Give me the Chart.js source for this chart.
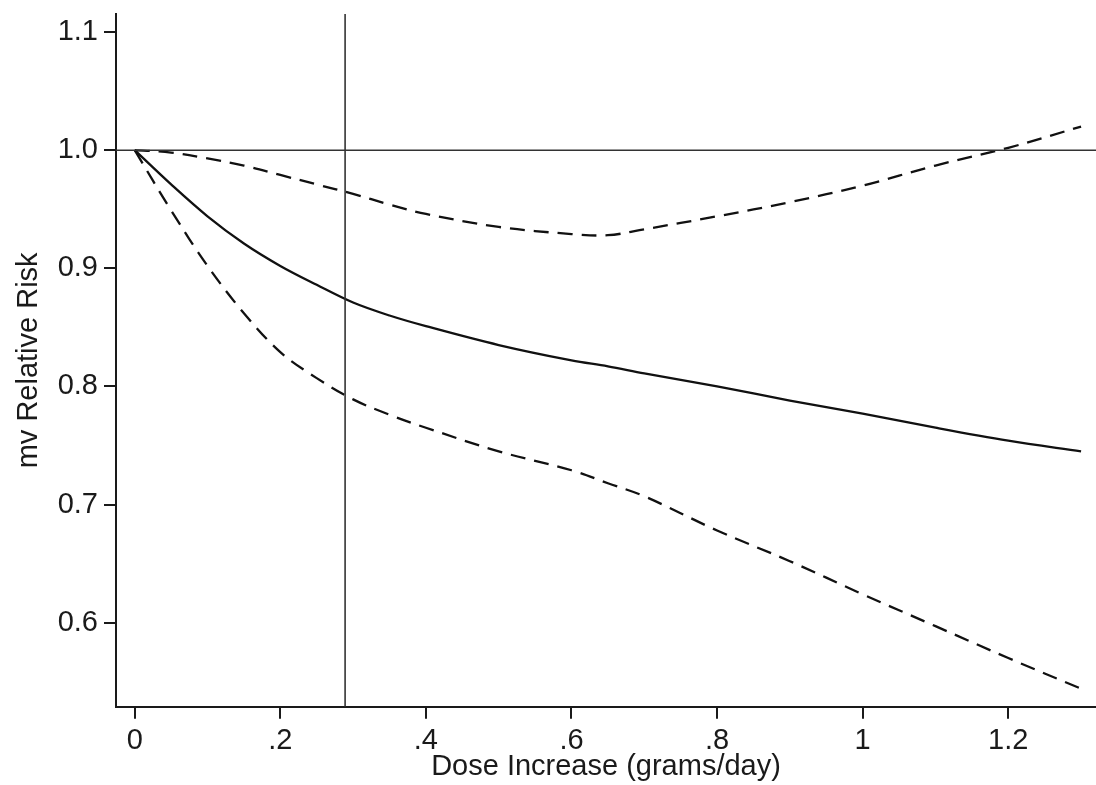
<!DOCTYPE html>
<html>
<head>
<meta charset="utf-8">
<script src="https://cdn.jsdelivr.net/npm/chart.js@4/dist/chart.umd.min.js"></script>
<style>
  html, body { margin: 0; padding: 0; background: #ffffff; overflow: hidden; }
  #wrap { position: relative; width: 1096px; height: 785px; }
</style>
</head>
<body>
<div id="wrap"><canvas id="c"></canvas></div>
<script>
// ---- Data ----
const doseX      = [0, 0.05, 0.1, 0.15, 0.2, 0.25, 0.3, 0.35, 0.4, 0.5, 0.6, 0.65, 0.7, 0.8, 0.9, 1.0, 1.1, 1.2, 1.3];
const rrEstimate = [1.000, 0.971, 0.944, 0.921, 0.902, 0.886, 0.871, 0.860, 0.851, 0.835, 0.822, 0.817, 0.811, 0.800, 0.788, 0.777, 0.765, 0.754, 0.745];
const rrUpper    = [1.000, 0.998, 0.993, 0.987, 0.979, 0.971, 0.963, 0.954, 0.946, 0.935, 0.929, 0.928, 0.933, 0.944, 0.956, 0.970, 0.987, 1.002, 1.020];
const rrLower    = [1.000, 0.949, 0.902, 0.862, 0.829, 0.807, 0.789, 0.776, 0.765, 0.745, 0.729, 0.718, 0.707, 0.678, 0.652, 0.624, 0.597, 0.570, 0.544];

const refDose = 0.289;   // vertical reference line
const refRisk = 1.0;     // horizontal reference line

const xTickValues = [0, 0.2, 0.4, 0.6, 0.8, 1.0, 1.2];
const xTickLabels = ['0', '.2', '.4', '.6', '.8', '1', '1.2'];
const yTickValues = [0.6, 0.7, 0.8, 0.9, 1.0, 1.1];
const yTickLabels = ['0.6', '0.7', '0.8', '0.9', '1.0', '1.1'];

const xMin = -0.0257, xMax = 1.3205;
const yMin = 0.5288, yMax = 1.1153;

const xTitle = 'Dose Increase (grams/day)';
const yTitle = 'mv Relative Risk';

// ---- Build chart ----
const toPts = (ys) => doseX.map((x, i) => ({ x: x, y: ys[i] }));
const INK = '#1a1a1a';
const FONT = '"Liberation Sans", Arial, sans-serif';

const lineBase = {
  showLine: true, pointRadius: 0, pointHoverRadius: 0, fill: false,
  borderColor: '#111', borderWidth: 2.3, tension: 0.35
};
const refBase = { ...lineBase, borderColor: '#333', borderWidth: 1.6, tension: 0 };

new Chart(document.getElementById('c'), {
  type: 'scatter',
  data: {
    datasets: [
      { ...refBase, data: [{ x: xMin, y: refRisk }, { x: xMax, y: refRisk }] },
      { ...refBase, data: [{ x: refDose, y: yMin }, { x: refDose, y: yMax }] },
      { ...lineBase, data: toPts(rrUpper), borderDash: [15, 9] },
      { ...lineBase, data: toPts(rrLower), borderDash: [15, 9] },
      { ...lineBase, data: toPts(rrEstimate) }
    ]
  },
  options: {
    responsive: true,
    maintainAspectRatio: false,
    animation: false,
    devicePixelRatio: 1,
    layout: { padding: { top: 14, left: 0, right: 0, bottom: 0 } },
    plugins: { legend: { display: false }, tooltip: { enabled: false } },
    scales: {
      x: {
        type: 'linear', min: xMin, max: xMax,
        afterBuildTicks: (s) => { s.ticks = xTickValues.map(v => ({ value: v })); },
        afterFit: (s) => { s.height = 78.3; s.paddingLeft = 0; s.paddingRight = 0; s.paddingTop = 0; s.paddingBottom = 0; },
        ticks: {
          autoSkip: false, maxRotation: 0, padding: 5, color: INK,
          font: { family: FONT, size: 29 },
          callback: (v) => { const i = xTickValues.findIndex(t => Math.abs(t - v) < 1e-9); return i >= 0 ? xTickLabels[i] : ''; }
        },
        grid: { drawOnChartArea: false, drawTicks: true, tickLength: 12, lineWidth: 2, color: INK, tickColor: INK },
        border: { display: true, color: INK, width: 2 },
        title: { display: true, text: xTitle, color: INK, font: { family: FONT, size: 29 }, padding: { top: 0, bottom: 1 } }
      },
      y: {
        type: 'linear', min: yMin, max: yMax,
        afterBuildTicks: (s) => { s.ticks = yTickValues.map(v => ({ value: v })); },
        afterFit: (s) => { s.width = 116; s.paddingLeft = 0; s.paddingRight = 0; s.paddingTop = 0; s.paddingBottom = 0; },
        ticks: {
          autoSkip: false, padding: 6, color: INK,
          font: { family: FONT, size: 29 },
          callback: (v) => { const i = yTickValues.findIndex(t => Math.abs(t - v) < 1e-9); return i >= 0 ? yTickLabels[i] : ''; }
        },
        grid: { drawOnChartArea: false, drawTicks: true, tickLength: 12, lineWidth: 2, color: INK, tickColor: INK },
        border: { display: true, color: INK, width: 2 },
        title: { display: true, text: yTitle, color: INK, font: { family: FONT, size: 29 }, padding: { top: 12, bottom: 0 } }
      }
    }
  }
});
</script>
</body>
</html>
